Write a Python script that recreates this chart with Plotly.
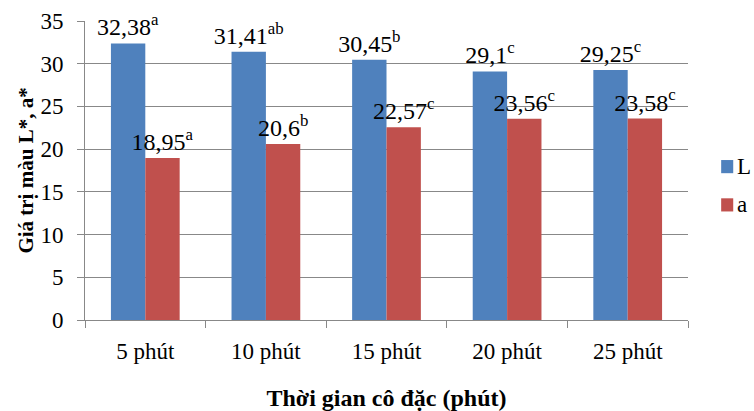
import plotly.graph_objects as go

categories = ["5 phút", "10 phút", "15 phút", "20 phút", "25 phút"]
L_values = [32.38, 31.41, 30.45, 29.1, 29.25]
a_values = [18.95, 20.6, 22.57, 23.56, 23.58]
L_letters = ["a", "ab", "b", "c", "c"]
a_letters = ["a", "b", "c", "c", "c"]
series_names = ["L", "a"]
colors = ["#4F81BD", "#C0504D"]

def fmt(v):
    return ("%g" % v).replace(".", ",")

L_text = [f"{fmt(v)}<sup>{s}</sup>" for v, s in zip(L_values, L_letters)]
a_text = [f"{fmt(v)}<sup>{s}</sup>" for v, s in zip(a_values, a_letters)]

FONT = "Liberation Serif"

fig = go.Figure()
for name, vals, txt, col in [(series_names[0], L_values, L_text, colors[0]),
                             (series_names[1], a_values, a_text, colors[1])]:
    fig.add_trace(go.Bar(
        x=categories, y=vals, name=name, text=txt,
        textposition="outside", constraintext="none", cliponaxis=False,
        textfont=dict(family=FONT, size=24, color="black"),
        outsidetextfont=dict(family=FONT, size=24, color="black"),
        marker=dict(color=col, line=dict(color=col, width=0)),
        showlegend=False,
    ))

fig.update_layout(
    template="none",
    width=754, height=411,
    margin=dict(l=85, r=66, t=21, b=91, autoexpand=False),
    paper_bgcolor="white", plot_bgcolor="white",
    barmode="group", bargap=0.43, bargroupgap=0,
    font=dict(family=FONT, size=23, color="black"),
    xaxis=dict(
        automargin=False,
        showline=True, linecolor="#888888", linewidth=1,
        ticks="outside", tickson="boundaries", ticklen=7, tickcolor="#888888",
        tickfont=dict(family=FONT, size=23, color="black"),
        ticklabelstandoff=10,
        showgrid=False,
        title=dict(text="Thời gian cô đặc (phút)", standoff=33,
                   font=dict(family=FONT, size=24, color="black", weight="bold")),
    ),
    yaxis=dict(
        automargin=False,
        range=[0, 35], dtick=5,
        showline=True, linecolor="#888888", linewidth=1,
        showgrid=True, gridcolor="#888888", gridwidth=1,
        ticks="outside", ticklen=7, tickcolor="#888888",
        tickfont=dict(family=FONT, size=23, color="black"),
        ticklabelstandoff=9,
        zeroline=False,
        title=dict(text="Giá trị màu L*, a*", standoff=1,
                   font=dict(family=FONT, size=21, color="black", weight="bold")),
    ),
)

# manual legend (squares + labels) placed to the right of the plot area
legend_rows = [(series_names[0], colors[0], 0.513), (series_names[1], colors[1], 0.385)]
for name, col, yc in legend_rows:
    fig.add_shape(type="rect", xref="paper", yref="paper",
                  x0=1.055, x1=1.075, y0=yc - 0.022, y1=yc + 0.022,
                  fillcolor=col, line=dict(width=0))
    fig.add_annotation(xref="paper", yref="paper", x=1.080, y=yc,
                       xanchor="left", yanchor="middle", text=name, showarrow=False,
                       borderpad=0,
                       font=dict(family=FONT, size=23, color="black"))

fig.write_html("out.html", config={"displayModeBar": False},
               post_script="document.body.style.margin='0';")
